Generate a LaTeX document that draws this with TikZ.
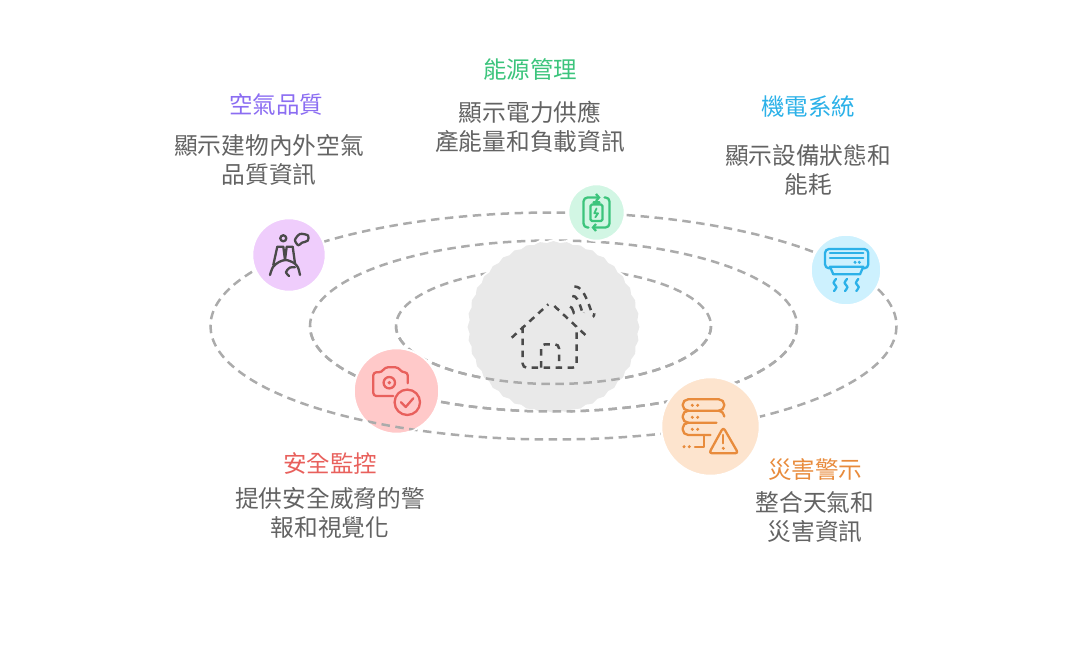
\documentclass[tikz,border=0pt]{standalone}
\usepackage{fontspec}
\setmainfont{Noto Sans CJK TC}
\usetikzlibrary{arrows.meta}

\definecolor{airc}{HTML}{8B6DF2}
\definecolor{airfill}{HTML}{EFCDFC}
\definecolor{energyc}{HTML}{3CC47C}
\definecolor{energyfill}{HTML}{D2F6E4}
\definecolor{mepc}{HTML}{2CB1E8}
\definecolor{mepfill}{HTML}{CDF1FE}
\definecolor{safec}{HTML}{E8605C}
\definecolor{safefill}{HTML}{FFC9C9}
\definecolor{alertc}{HTML}{E88B3C}
\definecolor{alertfill}{HTML}{FDE4CE}
\definecolor{bodyc}{HTML}{636363}
\definecolor{orbitc}{HTML}{ABABAB}
\definecolor{hubfill}{HTML}{E9E9E9}
\definecolor{iconc}{HTML}{4A4A4A}

\tikzset{
  orbit/.style={draw=orbitc, line width=2.5pt, dash pattern=on 8.5pt off 5.5pt},
  spot/.style={circle, inner sep=0pt, draw=white, line width=2pt},
  title/.style={font=\fontsize{23.5}{27}\selectfont, inner sep=0pt},
  body/.style={font=\fontsize{23.7}{29}\selectfont, text=bodyc, align=center, inner sep=0pt},
  icon/.style={line width=2.3pt, line cap=round, line join=round},
}

\begin{document}
\begin{tikzpicture}[x=1pt, y=-1pt]
\useasboundingbox (0,0) rectangle (1080,660);

\def\cx{553.5}
\def\cy{326}

\draw[orbit] (\cx, \cy) ellipse [x radius=343, y radius=113.5];
\draw[orbit] (\cx, \cy) ellipse [x radius=243.5, y radius=85.5];
\draw[orbit] (\cx, \cy) ellipse [x radius=157.5, y radius=58];

\draw[white, line width=4pt] plot[smooth cycle, samples=160, domain=0:357.75]
  ({\cx + (85 + 0.9 * cos(40 * \x)) * cos(\x)}, {327 + (85 + 0.9 * cos(40 * \x)) * sin(\x)});
\fill[hubfill] plot[smooth cycle, samples=160, domain=0:357.75]
  ({\cx + (85 + 0.9 * cos(40 * \x)) * cos(\x)}, {327 + (85 + 0.9 * cos(40 * \x)) * sin(\x)});

% front of the two inner orbits
\begin{scope}
\clip (300, 327) rectangle (810, 420);
\draw[orbit] (\cx, \cy) ellipse [x radius=243.5, y radius=85.5];
\draw[orbit] (\cx, \cy) ellipse [x radius=157.5, y radius=58];
\end{scope}

\node(air) [spot, fill=airfill, minimum size=73.5pt] at (289, 255) {};
\node(energy) [spot, fill=energyfill, minimum size=56.5pt] at (596.5, 212.5) {};
\node(mep) [spot, fill=mepfill, minimum size=70.5pt] at (846, 270) {};
\node(safe) [spot, fill=safefill, minimum size=85.5pt] at (396.5, 391) {};
\node(alert) [spot, fill=alertfill, minimum size=98.5pt] at (710.5, 426.5) {};

% outer orbit runs over the red spot
\begin{scope}
\clip (396.5, 391) circle (42);
\draw[orbit] (\cx, \cy) ellipse [x radius=343, y radius=113.5];
\end{scope}

% house
\begin{scope}[iconc, line width=2.5pt, dash pattern=on 6.5pt off 5.5pt]
\draw (511.7, 337.7) -- (548.3, 304.3);
\draw (554.3, 306) -- (588.3, 337.7);
\draw[rounded corners=4pt] (522.7, 326.7) -- (522.7, 367.7) -- (576.7, 367.7) -- (576.7, 326.7);
\draw[rounded corners=4pt] (541, 367.7) -- (541, 344.3) -- (559, 344.3) -- (559, 367.7);
\draw (574.3, 286.7) to [out=10, in=-95] (594.3, 313.3);
\draw (572.3, 296) to [out=10, in=-100] (584, 312.7);
\draw[solid] (570, 306.7) to [out=10, in=-100] (574.3, 312.7);
\end{scope}

% air
\begin{scope}[shift={(air)}, icon, draw=iconc]
\draw (-5.7, -16.7) circle (3);
\draw plot[smooth cycle] coordinates {(6, -15) (11, -21) (19, -19.5) (18.7, -14.3) (13, -12.3) (9.3, -9.7)};
\draw (-15.7, 10) -- (-11.7, -8.3) -- (-5.7, -8.3) -- (-4, 5);
\draw (-4, 5) -- (-2.3, -8.3) -- (3.7, -8.3) -- (6, 8.3);
\draw plot[smooth] coordinates {(-19, 20) (-16, 12) (-10, 7) (-3, 5) (5, 8) (9, 12.5) (11, 20)};
\draw plot[smooth] coordinates {(0, 21) (-3, 17) (1, 12.5) (6, 12.3)};
\end{scope}

% energy
\begin{scope}[shift={(energy)}, energyc, icon]
\draw[rounded corners=4pt, -{Straight Barb[length=3pt, width=7pt]}] (-8, 15) -- (-13, 15) -- (-13, -15) -- (4, -15);
\draw[rounded corners=4pt, -{Straight Barb[length=3pt, width=7pt]}] (8, -15) -- (13, -15) -- (13, 15) -- (-5, 15);
\draw[rounded corners=1.5pt] (-6, -8) rectangle (6, 8.5);
\draw (-3, -10) -- (3, -10);
\draw[line width=1.8pt] (0, -4) -- (-2.2, 0.8) -- (1.5, 0.8) -- (-1.2, 4.8);
\end{scope}

% mep
\begin{scope}[shift={(mep)}, mepc, icon]
\draw[rounded corners=4pt] (-21, -21) rectangle (22.3, -1.7);
\draw (-16, -16.7) -- (17.3, -16.7);
\draw (-16, -11.7) -- (17.3, -11.7);
\fill (9, -7.7) circle (1.7);
\fill (13.3, -7.7) circle (1.7);
\draw[fill=mepfill] (-16, -3.3) -- (17.3, -3.3) -- (14, 4.3) -- (-12.7, 4.3) -- cycle;
\foreach \sx in {-11, 0, 11.3} {
  \draw plot[smooth] coordinates {(\sx + 1, 9) (\sx - 1.5, 13) (\sx + 1.5, 17) (\sx - 1, 21)};
}
\end{scope}

% safe
\begin{scope}[shift={(safe)}, safec, icon]
\draw[rounded corners=3pt] (-3.2, 5) -- (-23.2, 5) -- (-23.2, -18.7) -- (-14.8, -18.7) -- (-11.5, -23.7) -- (1.8, -23.7) -- (5.2, -18.7) -- (11.2, -18.7) -- (11.2, -7.7);
\draw (-7.2, -8.3) circle (5.7);
\fill (-7.2, -8.3) circle (1.9);
\draw (10.8, 11.3) circle (12.7);
\draw (4.5, 11.3) -- (9.2, 16) -- (16.8, 7.3);
\end{scope}

% alert
\begin{scope}[shift={(alert)}, alertc, icon]
\draw[rounded corners=5.5pt] (-27.8, -27.2) rectangle (13.8, -15.8);
\draw[rounded corners=5.5pt] (-22, -15.8) -- (-27.8, -15.8) -- (-27.8, -3.8) -- (6, -3.8);
\draw plot[smooth] coordinates {(13.8, -10) (12, -14) (8, -15.8)};
\draw[rounded corners=5.5pt] (-22, -3.8) -- (-27.8, -3.8) -- (-27.8, 8.5) -- (0, 8.5);
\draw (-6.5, 8.5) -- (-6.5, 20.2) -- (-15.5, 20.2);
\foreach \dy in {-21.2, -9.2, 2.8} {
  \fill (-18.2, \dy) circle (1.7);
  \fill (-12.8, \dy) circle (1.7);
}
\fill (-26.5, 20.2) circle (1.7);
\fill (-21.2, 20.2) circle (1.7);
\draw[rounded corners=3pt] (12.8, 0.8) -- (27.8, 26.8) -- (-1.5, 26.8) -- cycle;
\draw (12.8, 8.5) -- (12.8, 16.8);
\fill (12.8, 21.8) circle (1.7);
\end{scope}

\node(airt) [title, text=airc] at (276, 104.5) {空氣品質};
\node(airb) [body] at (269, 160) {顯示建物內外空氣\\品質資訊};
\node(energyt) [title, text=energyc] at (530, 69.5) {能源管理};
\node(energyb) [body] at (530, 126.5) {顯示電力供應\\產能量和負載資訊};
\node(mept) [title, text=mepc] at (808, 107) {機電系統};
\node(mepb) [body] at (808, 169.5) {顯示設備狀態和\\能耗};
\node(safet) [title, text=safec] at (330, 464) {安全監控};
\node(safeb) [body] at (330, 512.5) {提供安全威脅的警\\報和視覺化};
\node(alertt) [title, text=alertc] at (815, 469.5) {災害警示};
\node(alertb) [body] at (815, 517) {整合天氣和\\災害資訊};

\end{tikzpicture}
\end{document}
